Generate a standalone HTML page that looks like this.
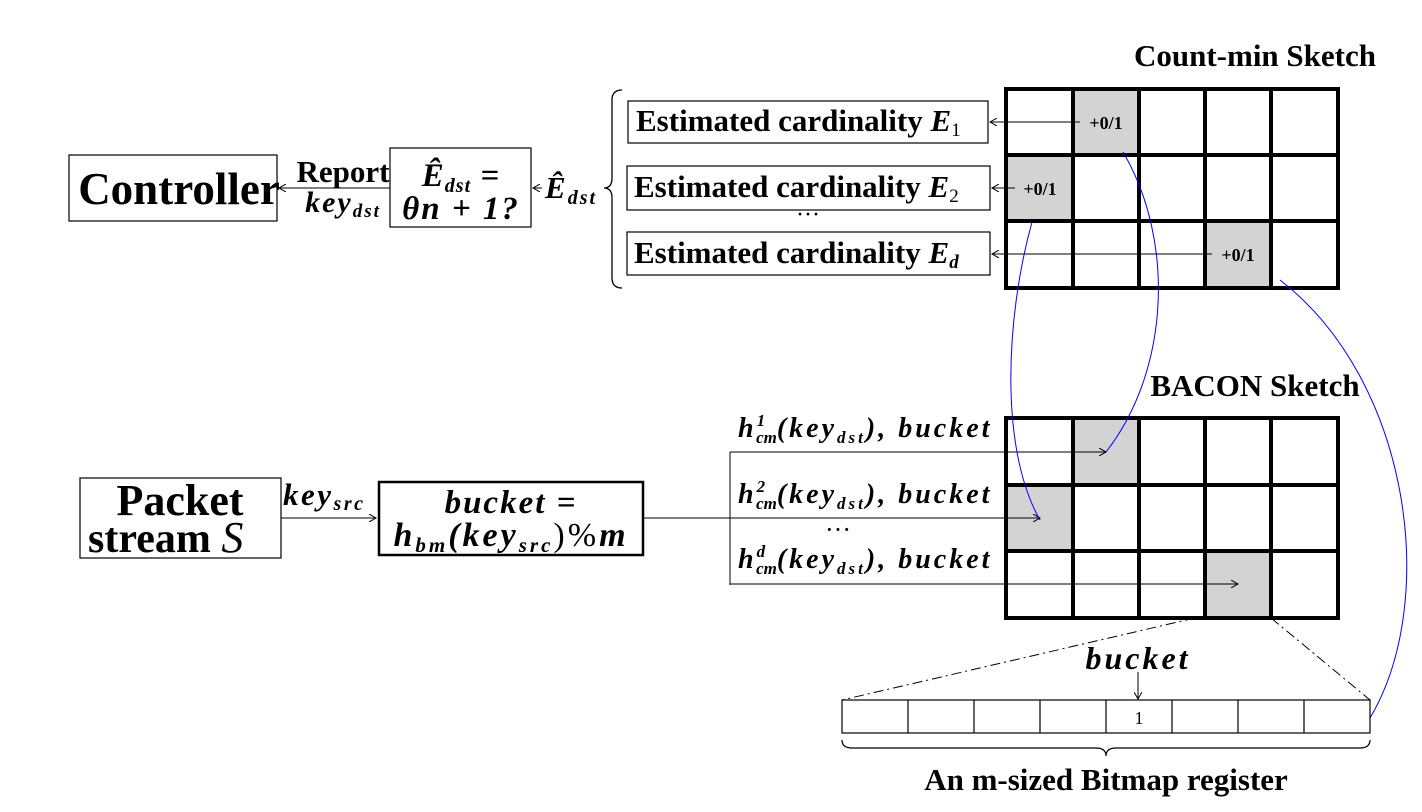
<!DOCTYPE html>
<html><head><meta charset="utf-8"><style>
body{margin:0;background:#fff}
svg{display:block}
.b{font-family:"Liberation Serif",serif;font-weight:bold}
.i{font-family:"Liberation Serif",serif;font-style:italic}
</style></head><body>
<svg width="1422" height="812" viewBox="0 0 1422 812" xmlns="http://www.w3.org/2000/svg">
<defs>
<marker id="ah" markerWidth="8" markerHeight="8" refX="7" refY="4" orient="auto" markerUnits="userSpaceOnUse"><path d="M0,0 L7,4 L0,8" fill="none" stroke="#000" stroke-width="1"/></marker>
</defs>

<g>
<rect x="69" y="155" width="208" height="66" fill="none" stroke="#000" stroke-width="1.2"/>
<text x="179" y="204" class="b" font-size="45" text-anchor="middle">Controller</text>
</g>
<line x1="390" y1="188" x2="279" y2="188" stroke="#000" stroke-width="1" marker-end="url(#ah)"/>
<text x="343" y="182" class="b" font-size="31" text-anchor="middle">Report</text>
<text x="343" y="212" class="i" font-size="30" font-weight="bold" letter-spacing="2" text-anchor="middle">key<tspan font-size="19" dy="5">dst</tspan></text>

<g>
<rect x="390" y="148" width="141" height="79" fill="none" stroke="#000" stroke-width="1.2"/>
<text x="461" y="186" class="i" font-size="33" font-weight="bold" letter-spacing="1" text-anchor="middle">Ê<tspan font-size="20" dy="6">dst</tspan><tspan dy="-6"> =</tspan></text>
<text x="461" y="219" class="i" font-size="33" font-weight="bold" letter-spacing="2" text-anchor="middle">θn + 1?</text>
</g>
<line x1="542" y1="188" x2="533" y2="188" stroke="#000" stroke-width="1" marker-end="url(#ah)"/>
<text x="545" y="198" class="i" font-size="31" font-weight="bold" letter-spacing="2">Ê<tspan font-size="20" dy="6">dst</tspan></text>
<path d="M622,90 Q612,90 612,100 L612,178 Q612,188 604,188 Q612,188 612,198 L612,278 Q612,288 622,288" fill="none" stroke="#000" stroke-width="1.3"/>

<g>
<rect x="628" y="101" width="360" height="42" fill="none" stroke="#000" stroke-width="1.2"/>
<text x="636" y="131" class="b" font-size="31">Estimated cardinality <tspan class="i">E</tspan><tspan font-size="19" dy="5" font-weight="normal">1</tspan></text>
</g>
<g>
<rect x="627" y="166" width="363" height="44" fill="none" stroke="#000" stroke-width="1.2"/>
<text x="634" y="197" class="b" font-size="31">Estimated cardinality <tspan class="i">E</tspan><tspan font-size="19" dy="5" font-weight="normal">2</tspan></text>
</g>
<text x="808" y="222" font-family="Liberation Serif,serif" font-size="24" text-anchor="middle">···</text>
<g>
<rect x="627" y="232" width="363" height="43" fill="none" stroke="#000" stroke-width="1.2"/>
<text x="634" y="263" class="b" font-size="31">Estimated cardinality <tspan class="i">E</tspan><tspan font-size="19" dy="5" class="i">d</tspan></text>
</g>

<text x="1255" y="66" class="b" font-size="31" text-anchor="middle">Count-min Sketch</text>
<g>
<rect x="1073" y="89" width="66" height="66" fill="#d3d3d3"/>
<rect x="1006" y="155" width="67" height="66" fill="#d3d3d3"/>
<rect x="1205" y="221" width="66" height="67" fill="#d3d3d3"/>
<g stroke="#000" stroke-width="4" fill="none">
<rect x="1006" y="89" width="332" height="199"/>
<line x1="1073" y1="89" x2="1073" y2="288"/><line x1="1139" y1="89" x2="1139" y2="288"/><line x1="1205" y1="89" x2="1205" y2="288"/><line x1="1271" y1="89" x2="1271" y2="288"/>
<line x1="1006" y1="155" x2="1338" y2="155"/><line x1="1006" y1="221" x2="1338" y2="221"/>
</g>
<text x="1106" y="129" class="b" font-size="18" text-anchor="middle">+0/1</text>
<text x="1040" y="195" class="b" font-size="18" text-anchor="middle">+0/1</text>
<text x="1238" y="261" class="b" font-size="18" text-anchor="middle">+0/1</text>
</g>
<g stroke="#000" stroke-width="1">
<line x1="1080" y1="122" x2="990" y2="122" marker-end="url(#ah)"/>
<line x1="1015" y1="188" x2="992" y2="188" marker-end="url(#ah)"/>
<line x1="1212" y1="254" x2="992" y2="254" marker-end="url(#ah)"/>
</g>

<g>
<rect x="80" y="478" width="201" height="80" fill="none" stroke="#000" stroke-width="1.2"/>
<text x="180" y="515" class="b" font-size="44" text-anchor="middle">Packet</text>
<text x="88" y="552" class="b" font-size="42">stream <tspan class="i" font-weight="normal" font-size="44">S</tspan></text>
</g>
<line x1="281" y1="518" x2="376" y2="518" stroke="#000" stroke-width="1" marker-end="url(#ah)"/>
<text x="283" y="505" class="i" font-size="31" font-weight="bold" letter-spacing="2.5">key<tspan font-size="20" dy="5">src</tspan></text>
<g>
<rect x="379" y="482" width="264" height="73" fill="none" stroke="#000" stroke-width="2.5"/>
<text x="511" y="513" class="i" font-size="33" font-weight="bold" letter-spacing="2" text-anchor="middle">bucket =</text>
<text x="511" y="546" class="i" font-size="34" font-weight="bold" letter-spacing="3" text-anchor="middle">h<tspan font-size="21" dy="6">bm</tspan><tspan dy="-6">(key</tspan><tspan font-size="21" dy="6">src</tspan><tspan dy="-6" font-weight="normal" font-style="normal">)%</tspan>m</text>
</g>

<text x="1255" y="396" class="b" font-size="31" text-anchor="middle">BACON Sketch</text>
<g>
<rect x="1073" y="418" width="66" height="67" fill="#d3d3d3"/>
<rect x="1006" y="485" width="67" height="66" fill="#d3d3d3"/>
<rect x="1205" y="551" width="66" height="67" fill="#d3d3d3"/>
<g stroke="#000" stroke-width="4" fill="none">
<rect x="1006" y="418" width="332" height="200"/>
<line x1="1073" y1="418" x2="1073" y2="618"/><line x1="1139" y1="418" x2="1139" y2="618"/><line x1="1205" y1="418" x2="1205" y2="618"/><line x1="1271" y1="418" x2="1271" y2="618"/>
<line x1="1006" y1="485" x2="1338" y2="485"/><line x1="1006" y1="551" x2="1338" y2="551"/>
</g>
</g>

<g stroke="#000" stroke-width="1" fill="none">
<line x1="643" y1="518" x2="1040" y2="518" marker-end="url(#ah)"/>
<line x1="730" y1="452" x2="730" y2="585"/>
<line x1="730" y1="452" x2="1106" y2="452" marker-end="url(#ah)"/>
<line x1="730" y1="584" x2="1238" y2="584" marker-end="url(#ah)"/>
</g>
<g class="i" font-size="28" font-weight="bold" letter-spacing="3">
<text x="738" y="437">h<tspan font-size="17" dy="-11" letter-spacing="0">1</tspan><tspan font-size="17" dx="-9" dy="17" letter-spacing="0">cm</tspan><tspan dy="-6">(key</tspan><tspan font-size="17" dy="6">dst</tspan><tspan dy="-6">), bucket</tspan></text>
<text x="738" y="503">h<tspan font-size="17" dy="-11" letter-spacing="0">2</tspan><tspan font-size="17" dx="-9" dy="17" letter-spacing="0">cm</tspan><tspan dy="-6">(key</tspan><tspan font-size="17" dy="6">dst</tspan><tspan dy="-6">), bucket</tspan></text>
<text x="738" y="568">h<tspan font-size="17" dy="-11" letter-spacing="0">d</tspan><tspan font-size="17" dx="-9" dy="17" letter-spacing="0">cm</tspan><tspan dy="-6">(key</tspan><tspan font-size="17" dy="6">dst</tspan><tspan dy="-6">), bucket</tspan></text>
</g>
<text x="838" y="538" font-family="Liberation Serif,serif" font-size="26" text-anchor="middle">···</text>

<g stroke="#0000ff" stroke-width="1" fill="none">
<path d="M1123,152 C1175,240 1170,370 1106,452"/>
<path d="M1032,222 C1005,320 1000,450 1040,520"/>
<path d="M1280,280 C1410,380 1440,600 1370,718"/>
</g>

<g stroke="#000" stroke-width="1" stroke-dasharray="10,4,2,4">
<line x1="1195" y1="618" x2="842" y2="700"/>
<line x1="1271" y1="618" x2="1370" y2="700"/>
</g>
<text x="1138" y="669" class="i" font-size="32" font-weight="bold" letter-spacing="3" text-anchor="middle">bucket</text>
<line x1="1138" y1="672" x2="1138" y2="699" stroke="#000" stroke-width="1" marker-end="url(#ah)"/>

<g stroke="#000" stroke-width="1.2" fill="none">
<rect x="842" y="700" width="528" height="33"/>
<line x1="908" y1="700" x2="908" y2="733"/><line x1="974" y1="700" x2="974" y2="733"/><line x1="1040" y1="700" x2="1040" y2="733"/><line x1="1106" y1="700" x2="1106" y2="733"/><line x1="1172" y1="700" x2="1172" y2="733"/><line x1="1238" y1="700" x2="1238" y2="733"/><line x1="1304" y1="700" x2="1304" y2="733"/>
</g>
<text x="1139" y="724" font-family="Liberation Serif,serif" font-size="18" text-anchor="middle">1</text>
<path d="M842,740 Q842,748 852,748 L1096,748 Q1106,748 1106,756 Q1106,748 1116,748 L1360,748 Q1370,748 1370,740" fill="none" stroke="#000" stroke-width="1.2"/>
<text x="1106" y="790" class="b" font-size="31" text-anchor="middle">An m-sized Bitmap register</text>
</svg>
</body></html>
